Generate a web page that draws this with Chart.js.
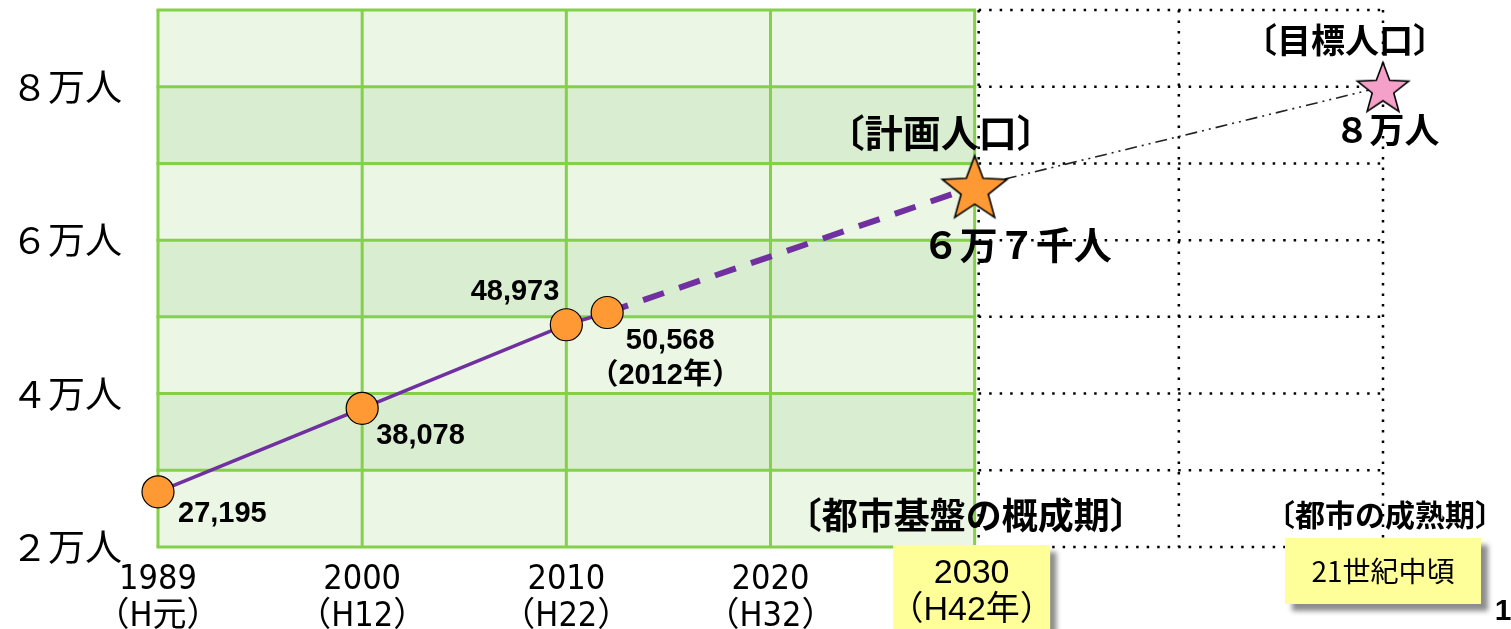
<!DOCTYPE html>
<html>
<head>
<meta charset="utf-8">
<script src="https://cdn.jsdelivr.net/npm/chart.js@4"></script>
<style>
  html, body { margin: 0; padding: 0; background: #fff; overflow: hidden; }
  canvas { display: block; }
</style>
</head>
<body>
<canvas id="pop" width="1511" height="629"></canvas>
<script>
const tickYears = [1989, 2000, 2010, 2020, 2030, 2040, 2050];
const tickEra = ['（H元）', '（H12）', '（H22）', '（H32）'];
const yLabels = { 20000: '２万人', 40000: '４万人', 60000: '６万人', 80000: '８万人' };

const popYears = [1989, 2000, 2010, 2012];
const popValues = [27195, 38078, 48973, 50568];
const planYears = [2012, 2030];
const planValues = [50568, 67000];
const targetYears = [2030, 2050];
const targetValues = [67000, 80000];

// decade columns, the first one spans 1989-2000
const col = (yr) => (yr <= 2000 ? (yr - 1989) / 11 : 1 + (yr - 2000) / 10);
const pts = (xs, ys) => xs.map((yr, i) => ({ x: col(yr), y: ys[i] }));

const GREEN = '#84d04a';
const JP = '"Noto Sans CJK JP", sans-serif';
const NUM = '"Liberation Sans", "Noto Sans CJK JP", sans-serif';

function makeStar(r, fill) {
  const c = document.createElement('canvas');
  c.width = c.height = Math.ceil(r * 2 + 4);
  const g = c.getContext('2d');
  const cx = c.width / 2, cy = c.height / 2 + r * 0.1;
  g.beginPath();
  for (let i = 0; i < 10; i++) {
    const rr = i % 2 ? r * 0.42 : r;
    const a = -Math.PI / 2 + i * Math.PI / 5;
    g.lineTo(cx + rr * Math.cos(a), cy + rr * Math.sin(a));
  }
  g.closePath();
  g.fillStyle = fill;
  g.fill();
  g.lineWidth = 1.6;
  g.strokeStyle = '#000';
  g.stroke();
  return c;
}

const decor = {
  id: 'decor',
  beforeDatasetsDraw(chart) {
    const { ctx, scales: { x, y } } = chart;
    const x0 = x.getPixelForValue(0), x4 = x.getPixelForValue(4);
    ctx.save();
    // bands
    for (let v = 20000; v < 90000; v += 10000) {
      const dark = (v / 10000) % 2 === 1;
      ctx.fillStyle = dark ? '#d9edd0' : '#ebf6e5';
      const top = y.getPixelForValue(v + 10000), bot = y.getPixelForValue(v);
      ctx.fillRect(x0, top, x4 - x0, bot - top);
    }
    // dotted grid on the right
    ctx.strokeStyle = '#000';
    ctx.lineWidth = 2.5;
    ctx.setLineDash([2.5, 8]);
    const xe = x.getPixelForValue(6);
    for (let v = 20000; v <= 90000; v += 10000) {
      const py = y.getPixelForValue(v);
      ctx.beginPath(); ctx.moveTo(x4 + 4, py); ctx.lineTo(xe, py); ctx.stroke();
    }
    [4, 5, 6].forEach((c) => {
      const px = x.getPixelForValue(c) + (c === 4 ? 4 : 0);
      ctx.beginPath(); ctx.moveTo(px, y.getPixelForValue(90000)); ctx.lineTo(px, y.getPixelForValue(20000)); ctx.stroke();
    });
    ctx.setLineDash([]);
    // green grid
    ctx.strokeStyle = GREEN;
    ctx.lineWidth = 3;
    for (let v = 20000; v <= 90000; v += 10000) {
      const py = y.getPixelForValue(v);
      ctx.beginPath(); ctx.moveTo(x0 - 1.5, py); ctx.lineTo(x4 + 1.5, py); ctx.stroke();
    }
    for (let c = 0; c <= 4; c++) {
      const px = x.getPixelForValue(c);
      ctx.beginPath(); ctx.moveTo(px, y.getPixelForValue(90000)); ctx.lineTo(px, y.getPixelForValue(20000)); ctx.stroke();
    }
    ctx.restore();
  },
  afterDatasetsDraw(chart) {
    const { ctx, scales: { x, y } } = chart;
    const at = (yr, v) => [x.getPixelForValue(col(yr)), y.getPixelForValue(v)];
    const txt = (s, px, py, font, align) => {
      ctx.font = font; ctx.textAlign = align || 'center'; ctx.fillText(s, px, py);
    };
    ctx.save();
    ctx.fillStyle = '#000';
    ctx.textBaseline = 'middle';
    const nf = 'bold 29px ' + NUM;
    const fmt = (v) => v.toLocaleString('en-US');
    let p = at(1989, popValues[0]);
    txt(fmt(popValues[0]), p[0] + 20, p[1] + 22, nf, 'left');
    p = at(2000, popValues[1]);
    txt(fmt(popValues[1]), p[0] + 14, p[1] + 28, nf, 'left');
    p = at(2010, popValues[2]);
    txt(fmt(popValues[2]), p[0] - 7, p[1] - 33, nf, 'right');
    p = at(2012, popValues[3]);
    txt(fmt(popValues[3]), p[0] + 63, p[1] + 29, nf);
    txt('（2012年）', p[0] + 58, p[1] + 64, nf);

    p = at(2030, planValues[1]);
    txt('〔計画人口〕', p[0] - 34, p[1] - 54, 'bold 38px ' + JP);
    txt('６万７千人', p[0] + 42, p[1] + 58, 'bold 38px ' + JP);
    p = at(2050, targetValues[1]);
    txt('〔目標人口〕', p[0] - 38, p[1] - 47, 'bold 34px ' + JP);
    txt('８万人', p[0] + 4, p[1] + 43, 'bold 35px ' + JP);

    const yb = y.getPixelForValue(20000) - 32;
    txt('〔都市基盤の概成期〕', x.getPixelForValue(4) - 9, yb, 'bold 36px ' + JP);
    txt('〔都市の成熟期〕', x.getPixelForValue(6) + 2, yb, 'bold 30px ' + JP);
    ctx.restore();
  },
  afterDraw(chart) {
    const { ctx, scales: { x } } = chart;
    const box = (cx, top, w, h, lines, font, lh, off) => {
      ctx.save();
      ctx.shadowColor = 'rgba(0,0,0,0.45)';
      ctx.shadowOffsetX = 7; ctx.shadowOffsetY = 7; ctx.shadowBlur = 5;
      ctx.fillStyle = '#ffff99';
      ctx.fillRect(cx - w / 2, top, w, h);
      ctx.restore();
      ctx.save();
      ctx.fillStyle = '#000'; ctx.font = font;
      ctx.textAlign = 'center'; ctx.textBaseline = 'middle';
      lines.forEach((s, i) => ctx.fillText(s, cx, top + lh * (i + 0.5) + off));
      ctx.restore();
    };
    box(x.getPixelForValue(4) - 3, 545, 157, 90, ['2030', '（H42年）'], '34px ' + NUM, 37, 10);
    box(x.getPixelForValue(6), 538, 196, 66, ['21世紀中頃'], '28px ' + JP, 66, 0);
    ctx.save();
    ctx.fillStyle = '#000';
    ctx.font = 'bold 30px ' + NUM; ctx.textAlign = 'center'; ctx.textBaseline = 'middle';
    ctx.fillText('1', 1503, 612);
    ctx.restore();
  }
};

new Chart(document.getElementById('pop'), {
  type: 'line',
  data: {
    datasets: [
      {
        label: 'target',
        data: pts(targetYears, targetValues),
        borderColor: '#222',
        borderWidth: 1.6,
        borderDash: [12, 5, 2, 5, 2, 5],
        pointRadius: 0,
        clip: false,
        order: 4,
      },
      {
        label: 'plan',
        data: pts(planYears, planValues),
        borderColor: '#7030a0',
        borderWidth: 6,
        borderDash: [22, 16],
        pointRadius: 0,
        clip: false,
        order: 3,
      },
      {
        label: 'population',
        data: pts(popYears, popValues),
        borderColor: '#7030a0',
        borderWidth: 3.5,
        pointRadius: 16,
        pointBackgroundColor: '#ff9933',
        pointBorderColor: '#000',
        pointBorderWidth: 1.2,
        clip: false,
        order: 2,
      },
      {
        label: 'goals',
        data: pts(targetYears, targetValues),
        showLine: false,
        pointStyle: [makeStar(34, '#ff9933'), makeStar(27, '#f5a0c8')],
        clip: false,
        order: 1,
      },
    ],
  },
  options: {
    responsive: false,
    animation: false,
    layout: { autoPadding: false, padding: { top: 10, right: 128, left: 0, bottom: 0 } },
    plugins: { legend: { display: false }, tooltip: { enabled: false } },
    scales: {
      x: {
        type: 'linear',
        min: 0,
        max: 6,
        grid: { display: false },
        border: { display: false },
        afterBuildTicks: (s) => { s.ticks = tickYears.map((yr) => ({ value: col(yr) })); },
        afterFit: (s) => { s.height = 82; s.paddingLeft = 0; s.paddingRight = 0; },
        ticks: {
          padding: 7,
          maxRotation: 0,
          autoSkip: false,
          color: '#000',
          font: { family: '"Liberation Sans Narrow", "DejaVu Sans Condensed", "Liberation Sans", "Noto Sans CJK JP", sans-serif', size: 34, lineHeight: 1.08 },
          callback: (v, i) => (i < tickEra.length ? [String(tickYears[i]), tickEra[i]] : ''),
        },
      },
      y: {
        min: 20000,
        max: 90000,
        grid: { display: false },
        border: { display: false },
        afterFit: (s) => { s.width = 158; s.paddingTop = 0; s.paddingBottom = 0; },
        ticks: {
          stepSize: 10000,
          padding: 28,
          color: '#000',
          font: { family: JP, size: 37 },
          callback: (v) => yLabels[v] || '',
        },
      },
    },
  },
  plugins: [decor],
});
</script>
</body>
</html>
